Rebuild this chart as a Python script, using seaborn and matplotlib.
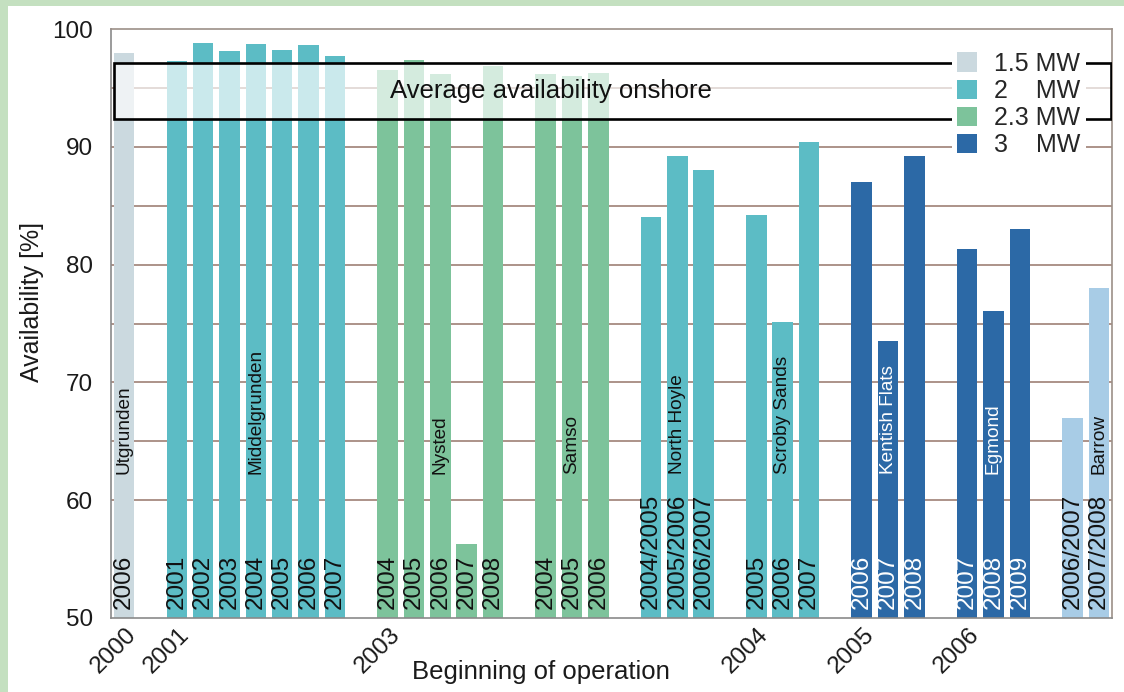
import numpy as np
import pandas as pd
import matplotlib
matplotlib.use("Agg")
import matplotlib.pyplot as plt
import seaborn as sns
from matplotlib.patches import Rectangle, Patch
from matplotlib.transforms import ScaledTranslation, blended_transform_factory

# ---------------- data ----------------
farms = ["Utgrunden", "Middelgrunden", "Nysted", "Samso", "North Hoyle",
         "Scroby Sands", "Kentish Flats", "Egmond", "Barrow"]
farm_class = ["1.5 MW", "2 MW", "2.3 MW", "2.3 MW", "2 MW", "2 MW", "3 MW", "3 MW", "Barrow"]
farm_years = [
    ["2006"],
    ["2001", "2002", "2003", "2004", "2005", "2006", "2007"],
    ["2004", "2005", "2006", "2007", "2008"],
    ["2004", "2005", "2006"],
    ["2004/2005", "2005/2006", "2006/2007"],
    ["2005", "2006", "2007"],
    ["2006", "2007", "2008"],
    ["2007", "2008", "2009"],
    ["2006/2007", "2007/2008"],
]
farm_values = [
    [98.0],
    [97.3, 98.8, 98.1, 98.7, 98.2, 98.6, 97.7],
    [96.5, 97.4, 96.2, 56.3, 96.9],
    [96.2, 96.0, 96.3],
    [84.0, 89.2, 88.0],
    [84.2, 75.1, 90.4],
    [87.0, 73.5, 89.2],
    [81.3, 76.1, 83.0],
    [67.0, 78.0],
]
name_bar = [0, 3, 2, 1, 1, 1, 1, 1, 1]   # which bar of each farm carries the name

start_labels = ["2000", "2001", "2003", "2004", "2005", "2006"]
start_ticks = [1, 3, 11, 25, 29, 33]

legend_classes = ["1.5 MW", "2 MW", "2.3 MW", "3 MW"]
legend_texts = ["1.5 MW", "2    MW", "2.3 MW", "3    MW"]
onshore_low, onshore_high = 92.36, 97.1
grid_levels = [60, 65, 70, 75, 80, 85, 90, 95]

palette = {"1.5 MW": "#cbd9df", "2 MW": "#5cbcc5", "2.3 MW": "#7dc39b",
           "3 MW": "#2c69a6", "Barrow": "#a8cce6"}
white_text = {"3 MW"}

# ---------------- layout of slots ----------------
rows = []
slot = 0
name_rows = []
for f, cls, yrs, vals, nb in zip(farms, farm_class, farm_years, farm_values, name_bar):
    for i, (yr, v) in enumerate(zip(yrs, vals)):
        rows.append(dict(farm=f, cls=cls, year=yr, value=v, pos=slot + i + 0.5))
        if i == nb:
            name_rows.append((f, cls, slot + i + 0.5))
    slot += len(yrs) + 1
df = pd.DataFrame(rows)
n_slots = slot - 1

# ---------------- figure ----------------
sns.set_style("white")
plt.rcParams['font.family'] = ['Liberation Sans', 'DejaVu Sans']

W, H = 1124, 692
fig = plt.figure(figsize=(W / 100, H / 100), dpi=100, facecolor="#c4e0c0")
fig.patches.append(Rectangle((8 / W, 0), 1, 1 - 6 / H, transform=fig.transFigure,
                             facecolor="white", edgecolor="none", zorder=-1))
ax = fig.add_axes([111 / W, 1 - 618 / H, 1001 / W, 589 / H])
ax.set_facecolor("none")

for g in grid_levels:
    ax.axhline(g, color="#a68a80", lw=1.3, zorder=0.5)

sns.barplot(data=df, x="pos", y="value", hue="cls", palette=palette,
            native_scale=True, width=0.78, dodge=False, legend=False,
            saturation=1, ax=ax, zorder=2, linewidth=0)

ax.set_xlim(0, n_slots)
ax.set_ylim(50, 100)

# year labels inside bars
for _, r in df.iterrows():
    ax.text(r.pos, 50.8, r.year, rotation=90, ha="center", va="bottom",
            fontsize=17.5, color="white" if r.cls in white_text else "#111111", zorder=4)
# farm names
for f, cls, p in name_rows:
    ax.text(p, 62.2, f, rotation=90, ha="center", va="bottom", fontsize=13.7,
            color="white" if cls in white_text else "#111111", zorder=4)

# onshore box
ax.add_patch(Rectangle((0.11, onshore_low), n_slots - 0.15, onshore_high - onshore_low,
                       facecolor=(1, 1, 1, 0.68), edgecolor="black", lw=1.9, zorder=3))
ax.text(16.7, (onshore_low + onshore_high) / 2, "Average availability onshore",
        ha="center", va="center", fontsize=18.5, color="#111111", zorder=4)

# legend
handles = [Patch(facecolor=palette[c], edgecolor="none", label=t)
           for c, t in zip(legend_classes, legend_texts)]
leg = ax.legend(handles=handles, loc="upper left", bbox_to_anchor=(0.840, 0.970),
                fontsize=18, frameon=True, framealpha=1, fancybox=False,
                borderpad=0.2, borderaxespad=0, labelspacing=0.13,
                handlelength=0.8, handleheight=0.8, handletextpad=0.7)
leg.get_frame().set_facecolor("white")
leg.get_frame().set_edgecolor("none")
leg.set_zorder(6)

# axes styling
ax.set_yticks([50, 60, 70, 80, 90, 100])
ax.set_yticks(np.arange(55, 100, 10), minor=True)
ax.set_xticks(np.arange(1, n_slots), minor=True)
ax.set_xticks(start_ticks)
ax.set_xticklabels([""] * len(start_ticks))
ax.tick_params(axis="both", which="both", direction="out", length=4, width=1,
               color="#8a8a8a", labelsize=17.5, labelcolor="#1a1a1a")
ax.tick_params(axis="y", pad=9)

# start-of-operation labels, rotated, anchored just left of their tick
xtrans = blended_transform_factory(ax.transData, ax.transAxes) + \
    ScaledTranslation(-12 / 100, -6 / 100, fig.dpi_scale_trans)
for t, lab in zip(start_ticks, start_labels):
    ax.text(t, 0, lab, transform=xtrans, rotation=45, ha="right", va="top",
            rotation_mode="anchor", fontsize=17.5, color="#1a1a1a")

for s in ["left", "bottom"]:
    ax.spines[s].set_color("#8a8a8a")
for s in ["top", "right"]:
    ax.spines[s].set_color("#9c9088")
for s in ax.spines.values():
    s.set_linewidth(1.2)

ax.set_ylabel("Availability [%]", fontsize=18, color="#1a1a1a")
ax.yaxis.set_label_coords(-0.067, 0.536)
ax.set_xlabel("Beginning of operation", fontsize=18.5, color="#1a1a1a")
ax.xaxis.set_label_coords(0.43, -0.071)

fig.savefig("out.png", dpi=100, facecolor=fig.get_facecolor())
